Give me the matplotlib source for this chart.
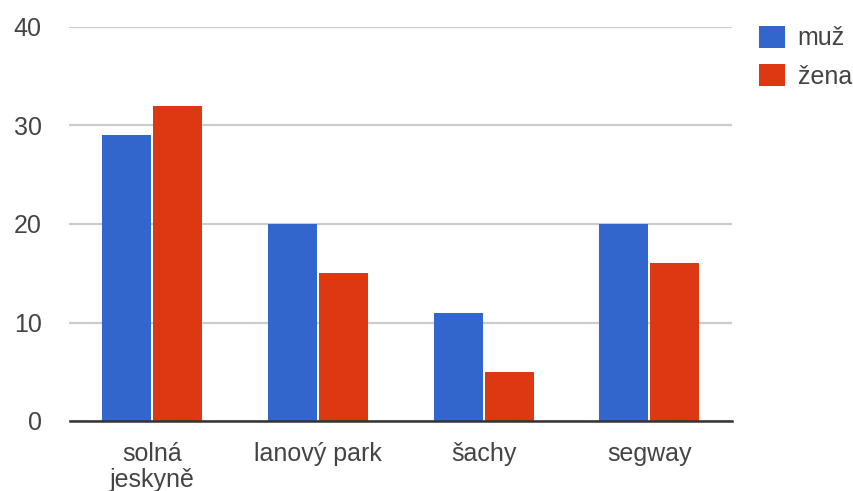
import matplotlib
matplotlib.use("Agg")
import matplotlib.pyplot as plt
import numpy as np

categories = ["solná\njeskyně", "lanový park", "šachy", "segway"]
muz = [29, 20, 11, 20]
zena = [32, 15, 5, 16]
series_names = ["muž", "žena"]
y_ticks = [0, 10, 20, 30, 40]

BLUE = "#3366cc"
RED = "#dc3912"
TEXT = "#444444"
FS = 18

plt.rcParams["font.family"] = ["Liberation Sans", "DejaVu Sans"]

fig = plt.figure(figsize=(8.54, 4.91), dpi=100)
ax = fig.add_axes([69.5 / 854, 1 - 421 / 491, (732 - 69.5) / 854, (421 - 27) / 491])

x = np.arange(len(categories))
w = 0.296
off = 0.154
b1 = ax.bar(x - off, muz, width=w, color=BLUE, zorder=3, label=series_names[0])
b2 = ax.bar(x + off, zena, width=w, color=RED, zorder=3, label=series_names[1])

ax.set_xlim(-0.5, len(categories) - 0.5)
ax.set_ylim(0, 40)
ax.set_yticks(y_ticks)
ax.set_xticks(x)
ax.set_xticklabels(categories, linespacing=1.1)

ax.grid(axis="y", color="#cccccc", linewidth=1.6, zorder=0)
for s in ["top", "right", "left"]:
    ax.spines[s].set_visible(False)
ax.spines["bottom"].set_color("#333333")
ax.spines["bottom"].set_linewidth(1.8)
ax.spines["bottom"].set_zorder(4)

ax.tick_params(axis="both", length=0, labelsize=FS, colors=TEXT)
ax.tick_params(axis="y", pad=20)
ax.tick_params(axis="x", pad=15)

leg = ax.legend(
    handles=[b1, b2],
    loc="upper left",
    bbox_to_anchor=(759 / 854, 1 - 26 / 491),
    bbox_transform=fig.transFigure,
    frameon=False,
    fontsize=FS,
    borderpad=0,
    borderaxespad=0,
    handlelength=1.05,
    handleheight=0.95,
    handletextpad=0.5,
    labelspacing=0.55,
    labelcolor=TEXT,
)

fig.savefig("out.png", dpi=100, facecolor="white")
